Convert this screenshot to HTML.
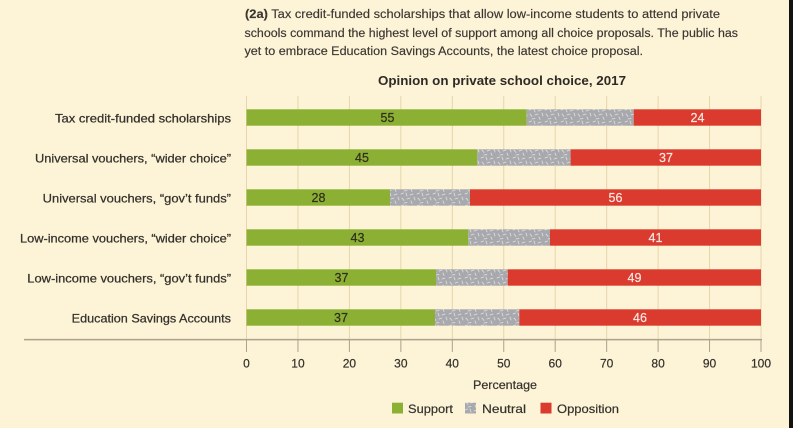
<!DOCTYPE html>
<html><head><meta charset="utf-8"><style>
html,body{margin:0;padding:0;background:#fdf3d6;}
svg{display:block;}
text{font-family:"Liberation Sans",sans-serif;}
</style></head><body>
<svg width="793" height="428" viewBox="0 0 793 428" xmlns="http://www.w3.org/2000/svg">
<defs>
<pattern id="nz" patternUnits="userSpaceOnUse" width="16" height="12">
<rect width="16" height="12" fill="#a8a9ae"/>
<g stroke="#eceae4" stroke-width="0.8" stroke-linecap="round" opacity="0.85">
<line x1="1" y1="2" x2="3.5" y2="1"/>
<line x1="6" y1="1" x2="7" y2="4"/>
<line x1="10" y1="3" x2="13" y2="2"/>
<line x1="14" y1="5" x2="15" y2="8"/>
<line x1="2" y1="6" x2="4" y2="8.5"/>
<line x1="7" y1="7" x2="10" y2="6"/>
<line x1="11" y1="9" x2="12" y2="11.5"/>
<line x1="4" y1="11" x2="7" y2="10.5"/>
</g>
</pattern>
</defs>
<rect width="793" height="428" fill="#fdf3d6"/>
<rect x="789" y="0" width="4" height="428" fill="#121212"/>

<!-- paragraph -->
<g fill="#3a3632" font-size="11.5" stroke="#3a3632" stroke-width="0.15">
<text x="245" y="18" textLength="475" lengthAdjust="spacingAndGlyphs"><tspan font-weight="bold">(2a)</tspan> Tax credit-funded scholarships that allow low-income students to attend private</text>
<text x="244.5" y="36.8" textLength="493.5" lengthAdjust="spacingAndGlyphs">schools command the highest level of support among all choice proposals. The public has</text>
<text x="244.5" y="55" textLength="398.5" lengthAdjust="spacingAndGlyphs">yet to embrace Education Savings Accounts, the latest choice proposal.</text>
</g>
<text x="378" y="85" font-size="13" font-weight="bold" fill="#2e2a26" textLength="248" lengthAdjust="spacingAndGlyphs">Opinion on private school choice, 2017</text>

<!-- gridlines -->
<g stroke="#e6d6aa" stroke-width="1">
<line x1="246.5" y1="96" x2="246.5" y2="339"/>
<line x1="297.95" y1="96" x2="297.95" y2="339"/>
<line x1="349.4" y1="96" x2="349.4" y2="339"/>
<line x1="400.85" y1="96" x2="400.85" y2="339"/>
<line x1="452.3" y1="96" x2="452.3" y2="339"/>
<line x1="503.75" y1="96" x2="503.75" y2="339"/>
<line x1="555.2" y1="96" x2="555.2" y2="339"/>
<line x1="606.65" y1="96" x2="606.65" y2="339"/>
<line x1="658.1" y1="96" x2="658.1" y2="339"/>
<line x1="709.55" y1="96" x2="709.55" y2="339"/>
<line x1="761" y1="96" x2="761" y2="339"/>
</g>
<!-- ticks -->
<g stroke="#aaa28e" stroke-width="1">
<line x1="246.5" y1="339" x2="246.5" y2="352"/>
<line x1="297.95" y1="339" x2="297.95" y2="352"/>
<line x1="349.4" y1="339" x2="349.4" y2="352"/>
<line x1="400.85" y1="339" x2="400.85" y2="352"/>
<line x1="452.3" y1="339" x2="452.3" y2="352"/>
<line x1="503.75" y1="339" x2="503.75" y2="352"/>
<line x1="555.2" y1="339" x2="555.2" y2="352"/>
<line x1="606.65" y1="339" x2="606.65" y2="352"/>
<line x1="658.1" y1="339" x2="658.1" y2="352"/>
<line x1="709.55" y1="339" x2="709.55" y2="352"/>
<line x1="761" y1="339" x2="761" y2="352"/>
</g>
<line x1="24" y1="339.6" x2="762" y2="339.6" stroke="#aaa28e" stroke-width="1.5"/>

<!-- bars -->
<g>
<rect x="246.5" y="109.3" width="280.2" height="16.4" fill="#8bb033"/>
<rect x="526.7" y="109.3" width="107" height="16.4" fill="url(#nz)"/>
<rect x="633.7" y="109.3" width="127.3" height="16.4" fill="#db3a2f"/>

<rect x="246.5" y="149.3" width="230.8" height="16.4" fill="#8bb033"/>
<rect x="477.3" y="149.3" width="93.3" height="16.4" fill="url(#nz)"/>
<rect x="570.6" y="149.3" width="190.4" height="16.4" fill="#db3a2f"/>

<rect x="246.5" y="189.3" width="143.5" height="16.4" fill="#8bb033"/>
<rect x="390" y="189.3" width="80" height="16.4" fill="url(#nz)"/>
<rect x="470" y="189.3" width="291" height="16.4" fill="#db3a2f"/>

<rect x="246.5" y="229.3" width="221.8" height="16.4" fill="#8bb033"/>
<rect x="468.3" y="229.3" width="81.7" height="16.4" fill="url(#nz)"/>
<rect x="550" y="229.3" width="211" height="16.4" fill="#db3a2f"/>

<rect x="246.5" y="269.3" width="189.5" height="16.4" fill="#8bb033"/>
<rect x="436" y="269.3" width="71.7" height="16.4" fill="url(#nz)"/>
<rect x="507.7" y="269.3" width="253.3" height="16.4" fill="#db3a2f"/>

<rect x="246.5" y="309.3" width="188.5" height="16.4" fill="#8bb033"/>
<rect x="435" y="309.3" width="84.3" height="16.4" fill="url(#nz)"/>
<rect x="519.3" y="309.3" width="241.7" height="16.4" fill="#db3a2f"/>
</g>

<!-- bar values -->
<g font-size="12.5" text-anchor="middle" fill="#2f2c1e" stroke="#2f2c1e" stroke-width="0.2">
<text x="387.5" y="122">55</text>
<text x="362" y="162">45</text>
<text x="318.5" y="202">28</text>
<text x="357.5" y="242">43</text>
<text x="341.5" y="282">37</text>
<text x="341" y="322">37</text>
</g>
<g font-size="12.5" text-anchor="middle" fill="#fbe9e2" stroke="#fbe9e2" stroke-width="0.2">
<text x="697.5" y="122">24</text>
<text x="666" y="162">37</text>
<text x="615.5" y="202">56</text>
<text x="655.5" y="242">41</text>
<text x="634.5" y="282">49</text>
<text x="640" y="322">46</text>
</g>

<!-- category labels -->
<g font-size="12" fill="#34312c" stroke="#34312c" stroke-width="0.25">
<text x="55" y="122.7" textLength="176" lengthAdjust="spacingAndGlyphs">Tax credit-funded scholarships</text>
<text x="35" y="162.7" textLength="196" lengthAdjust="spacingAndGlyphs">Universal vouchers, “wider choice”</text>
<text x="42.7" y="202.7" textLength="188.3" lengthAdjust="spacingAndGlyphs">Universal vouchers, “gov’t funds”</text>
<text x="20" y="242.7" textLength="211" lengthAdjust="spacingAndGlyphs">Low-income vouchers, “wider choice”</text>
<text x="27.3" y="282.7" textLength="203.7" lengthAdjust="spacingAndGlyphs">Low-income vouchers, “gov’t funds”</text>
<text x="71.7" y="322.7" textLength="159.3" lengthAdjust="spacingAndGlyphs">Education Savings Accounts</text>
</g>

<!-- tick labels -->
<g font-size="12" text-anchor="middle" fill="#34312c" stroke="#34312c" stroke-width="0.2">
<text x="246.5" y="367.6">0</text>
<text x="297.95" y="367.6">10</text>
<text x="349.4" y="367.6">20</text>
<text x="400.85" y="367.6">30</text>
<text x="452.3" y="367.6">40</text>
<text x="503.75" y="367.6">50</text>
<text x="555.2" y="367.6">60</text>
<text x="606.65" y="367.6">70</text>
<text x="658.1" y="367.6">80</text>
<text x="709.55" y="367.6">90</text>
<text x="761" y="367.6">100</text>
</g>
<text x="473" y="389" font-size="11.8" fill="#34312c" stroke="#34312c" stroke-width="0.2" textLength="64" lengthAdjust="spacingAndGlyphs">Percentage</text>

<!-- legend -->
<rect x="392" y="402.7" width="11" height="10.8" fill="#8bb033"/>
<text x="408" y="413" font-size="11.8" fill="#34312c" stroke="#34312c" stroke-width="0.2" textLength="45" lengthAdjust="spacingAndGlyphs">Support</text>
<rect x="465" y="402.7" width="11" height="10.8" fill="url(#nz)"/>
<text x="482" y="413" font-size="11.8" fill="#34312c" stroke="#34312c" stroke-width="0.2" textLength="44" lengthAdjust="spacingAndGlyphs">Neutral</text>
<rect x="540.5" y="402.7" width="11" height="10.8" fill="#db3a2f"/>
<text x="557" y="413" font-size="11.8" fill="#34312c" stroke="#34312c" stroke-width="0.2" textLength="62" lengthAdjust="spacingAndGlyphs">Opposition</text>
</svg>
</body></html>
